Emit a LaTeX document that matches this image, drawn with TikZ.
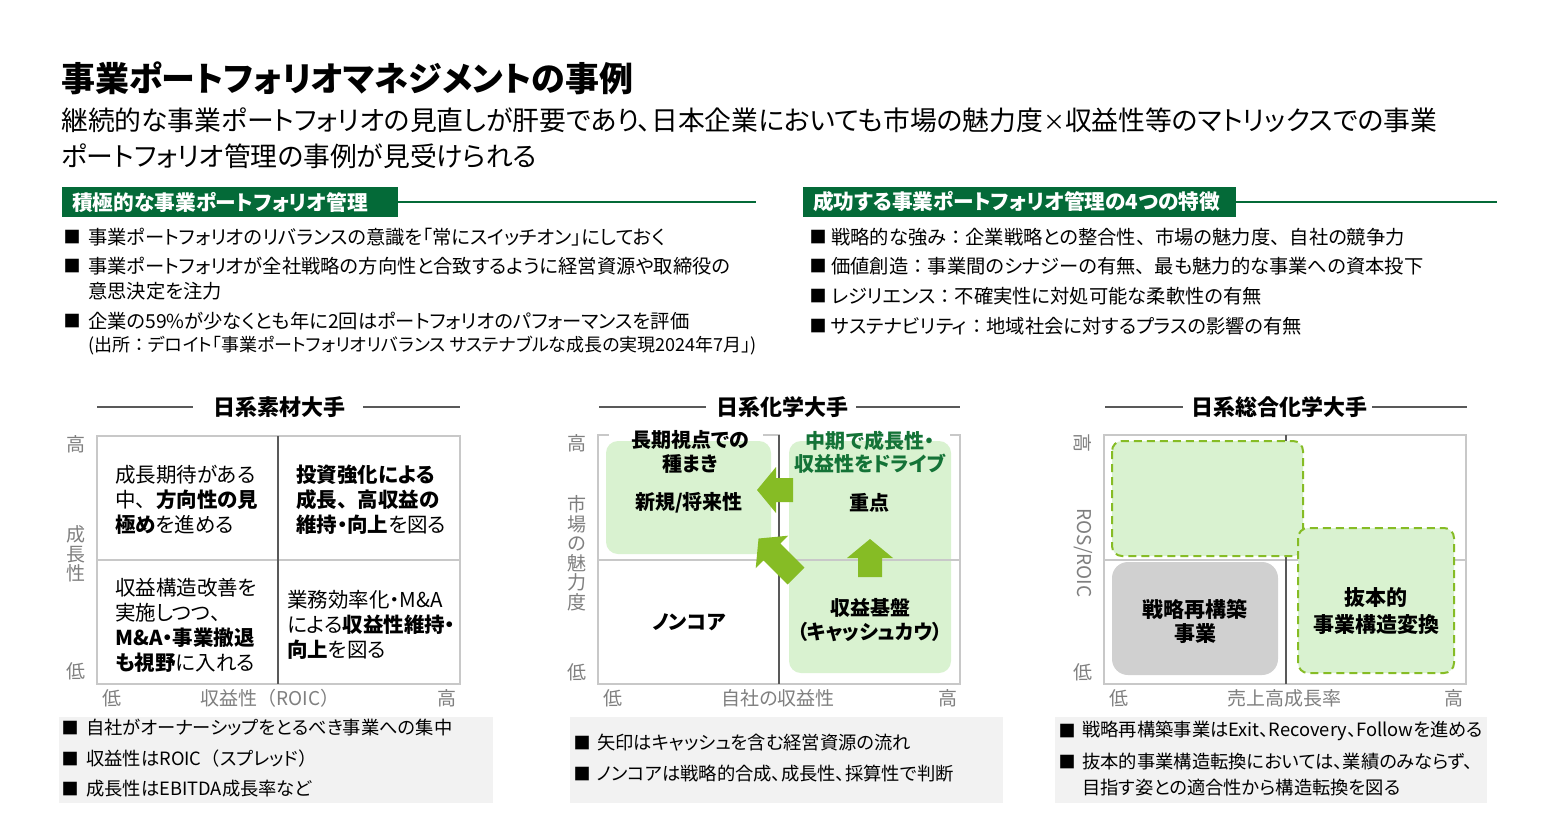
\documentclass[tikz,border=0pt]{standalone}
\usepackage{fontspec}
\setmainfont{Noto Sans CJK JP}[RawFeature=+palt]
\newfontfamily\fullwidth{Noto Sans CJK JP}
\usetikzlibrary{positioning}

\definecolor{dgreen}{RGB}{4,106,56}
\definecolor{lgreen}{RGB}{217,242,208}
\definecolor{agreen}{RGB}{134,188,37}
\definecolor{tgreen}{RGB}{20,115,55}
\definecolor{notebg}{RGB}{242,242,242}
\definecolor{corebox}{RGB}{208,208,208}
\definecolor{framegray}{RGB}{200,200,200}
\definecolor{axistxt}{RGB}{127,127,127}
\definecolor{axisline}{RGB}{89,89,89}

\newcommand{\fcolon}{{\fullwidth ：}}
\newcommand{\fcomma}{{\fullwidth 、}}
\newcommand{\lpar}{{\fullwidth （}}
\newcommand{\rpar}{{\fullwidth ）}}

\tikzset{
  every node/.style={inner sep=0pt},
  sectionbar/.style={fill=dgreen,text=white,font=\fontsize{20.7}{24}\selectfont\bfseries,
    minimum height=30,inner xsep=10,align=left,anchor=west},
  bulletmark/.style={font=\fontsize{17}{18}\selectfont},
  bullettext/.style={anchor=west,align=left,font=\fontsize{19.3}{25}\selectfont},
  notetext/.style={anchor=west,align=left,font=\fontsize{18.3}{26}\selectfont},
  paneltitle/.style={font=\fontsize{22}{26}\selectfont\bfseries},
  celltext/.style={anchor=west,align=left,font=\fontsize{20.5}{25}\selectfont},
  quadlabel/.style={align=center,font=\fontsize{20}{23.5}\selectfont\bfseries},
  axislabel/.style={text=axistxt,align=center,font=\fontsize{19}{19.5}\selectfont},
  gridframe/.style={draw=framegray,line width=2},
  midaxis/.style={draw=axisline,line width=2},
  titlerule/.style={draw=axisline,line width=1.3},
  dashbox/.style={fill=lgreen,draw=agreen,line width=2,dash pattern=on 8 off 5,rounded corners=10},
}

% block arrow: tail x, tail y, angle, length
\newcommand{\flowarrow}[4]{%
  \fill[agreen,shift={(#1,#2)},rotate=#3]
    (0,-12) -- (#4-19,-12) -- (#4-19,-23) -- (#4,0) -- (#4-19,23) -- (#4-19,12) -- (0,12) -- cycle;}

\begin{document}
\begin{tikzpicture}[x=1pt,y=-1pt]
    \useasboundingbox[fill=white] (0,0) rectangle (1546,835);

    % header
    \node[anchor=west,font=\fontsize{34}{40}\selectfont\bfseries] (title) at (61,78) {事業ポートフォリオマネジメントの事例};
    \node[anchor=west,align=left,font=\fontsize{26.8}{36}\selectfont] (lead) at (61,138)
        {継続的な事業ポートフォリオの見直しが肝要であり、日本企業においても市場の魅力度{\fontsize{22}{36}\selectfont ×}収益性等のマトリックスでの事業\\ポートフォリオ管理の事例が見受けられる};

    \node[sectionbar,text width=316] (secL) at (62,202) {積極的な事業ポートフォリオ管理};
    \coordinate (secLend) at (756,202);
    \draw[dgreen,line width=1.8] (secL.east) -- (secLend);
    \node[sectionbar,text width=413] (secR) at (803,202) {成功する事業ポートフォリオ管理の4つの特徴};
    \coordinate (secRend) at (1497,202);
    \draw[dgreen,line width=1.8] (secR.east) -- (secRend);

    \node[bulletmark] (mL1) at (72,237) {■};
    \node[bullettext] (bL1) at (88,237) {事業ポートフォリオのリバランスの意識を「常にスイッチオン」にしておく};
    \node[bulletmark] (mL2) at (72,266) {■};
    \node[bullettext] (bL2) at (88,278.5) {事業ポートフォリオが全社戦略の方向性と合致するように経営資源や取締役の\\意思決定を注力};
    \node[bulletmark] (mL3) at (72,321) {■};
    \node[bullettext] (bL3) at (88,321) {企業の59\%が少なくとも年に2回はポートフォリオのパフォーマンスを評価};
    \node[bullettext,font=\fontsize{18}{25}\selectfont] (bL3b) at (88,346) {(出所\fcolon デロイト「事業ポートフォリオリバランス サステナブルな成長の実現2024年7月」)};

    \node[bulletmark] (mR1) at (818,237) {■};
    \node[bullettext] (bR1) at (831,237) {戦略的な強み\fcolon 企業戦略との整合性\fcomma 市場の魅力度\fcomma 自社の競争力};
    \node[bulletmark] (mR2) at (818,266) {■};
    \node[bullettext] (bR2) at (831,266) {価値創造\fcolon 事業間のシナジーの有無\fcomma 最も魅力的な事業への資本投下};
    \node[bulletmark] (mR3) at (818,296) {■};
    \node[bullettext] (bR3) at (831,296) {レジリエンス\fcolon 不確実性に対処可能な柔軟性の有無};
    \node[bulletmark] (mR4) at (818,326) {■};
    \node[bullettext] (bR4) at (831,326) {サステナビリティ\fcolon 地域社会に対するプラスの影響の有無};

    % panel 1
    \node[paneltitle] (pt1) at (279,407) {日系素材大手};
    \coordinate (pt1l) at (97,407);
    \coordinate (pt1r) at (460,407);
    \draw[titlerule] (pt1l) -- ([xshift=-20]pt1.west);
    \draw[titlerule] ([xshift=18]pt1.east) -- (pt1r);

    \draw[gridframe] (97,436) rectangle (460,684);
    \draw[gridframe] (97,560) -- (460,560);
    \draw[midaxis] (278,436) -- (278,684);

    \node[celltext] (c11) at (115,500) {成長期待がある\\中\fcomma\textbf{方向性の見}\\\textbf{極め}を進める};
    \node[celltext] (c12) at (296,500) {\textbf{投資強化による}\\\textbf{成長\fcomma 高収益の}\\\textbf{維持・向上}を図る};
    \node[celltext] (c21) at (115,625) {収益構造改善を\\実施しつつ\fcomma\\\textbf{M\&A・事業撤退}\\\textbf{も視野}に入れる};
    \node[celltext] (c22) at (287,625) {業務効率化・M\&A\\による\textbf{収益性維持・}\\\textbf{向上}を図る};

    \node[axislabel] (y1hi) at (76,444) {高};
    \node[axislabel] (y1) at (76,554) {成\\長\\性};
    \node[axislabel] (y1lo) at (76,671) {低};
    \node[axislabel] (x1lo) at (112,698) {低};
    \node[axislabel] (x1) at (270,698) {収益性\lpar ROIC\rpar};
    \node[axislabel] (x1hi) at (447,698) {高};

    \fill[notebg] (59,717) rectangle (493,803);
    \node[bulletmark] (mN11) at (70,728) {■};
    \node[notetext] (n11) at (86,728) {自社がオーナーシップをとるべき事業への集中};
    \node[bulletmark] (mN12) at (70,759) {■};
    \node[notetext] (n12) at (86,759) {収益性はROIC\lpar スプレッド\rpar};
    \node[bulletmark] (mN13) at (70,789) {■};
    \node[notetext] (n13) at (86,789) {成長性はEBITDA成長率など};

    % panel 2
    \node[paneltitle] (pt2) at (782,407) {日系化学大手};
    \coordinate (pt2l) at (599,407);
    \coordinate (pt2r) at (960,407);
    \draw[titlerule] (pt2l) -- ([xshift=-10]pt2.west);
    \draw[titlerule] ([xshift=8]pt2.east) -- (pt2r);

    \draw[gridframe] (598,435) rectangle (960,684);
    \fill[white] (609,432) rectangle (763,438);
    \fill[white] (780,432) rectangle (950,438);
    \fill[lgreen,rounded corners=12] (606,441) rectangle (771,554);
    \fill[lgreen,rounded corners=12] (789,441) rectangle (951,673);
    \draw[gridframe] (598,560) -- (960,560);
    \draw[midaxis] (779,435) -- (779,684);

    \flowarrow{793}{490}{180}{36}
    \flowarrow{870}{577}{90}{38}
    \flowarrow{796}{576}{135}{53}

    \node[quadlabel] (q11a) at (690,452) {長期視点での\\種まき};
    \node[quadlabel] (q11) at (689,503) {新規/将来性};
    \node[quadlabel,text=tgreen] (q12a) at (870,452) {中期で成長性・\\収益性をドライブ};
    \node[quadlabel] (q12) at (869,503) {重点};
    \node[quadlabel] (q21) at (689,622) {ノンコア};
    \node[quadlabel] (q22) at (870,620) {収益基盤\\（キャッシュカウ）};

    \node[axislabel] (y2hi) at (577,443) {高};
    \node[axislabel] (y2) at (577,553) {市\\場\\の\\魅\\力\\度};
    \node[axislabel] (y2lo) at (577,672) {低};
    \node[axislabel] (x2lo) at (613,698) {低};
    \node[axislabel] (x2) at (778,698) {自社の収益性};
    \node[axislabel] (x2hi) at (948,698) {高};

    \fill[notebg] (570,717) rectangle (1003,803);
    \node[bulletmark] (mN21) at (582,743) {■};
    \node[notetext] (n21) at (597,743) {矢印はキャッシュを含む経営資源の流れ};
    \node[bulletmark] (mN22) at (582,774) {■};
    \node[notetext] (n22) at (597,774) {ノンコアは戦略的合成、成長性、採算性で判断};

    % panel 3
    \node[paneltitle] (pt3) at (1279,407) {日系総合化学大手};
    \coordinate (pt3l) at (1105,407);
    \coordinate (pt3r) at (1467,407);
    \draw[titlerule] (pt3l) -- ([xshift=-8]pt3.west);
    \draw[titlerule] ([xshift=5]pt3.east) -- (pt3r);

    \draw[gridframe] (1104,435) rectangle (1466,684);
    \draw[gridframe] (1104,560) -- (1466,560);
    \draw[midaxis] (1286,435) -- (1286,684);
    \path[dashbox] (1112,441) rectangle (1303,556);
    \path[dashbox] (1298,528) rectangle (1454,673);
    \fill[corebox,rounded corners=16] (1112,562) rectangle (1278,675);

    \node[quadlabel,font=\fontsize{21}{24}\selectfont\bfseries] (q3a) at (1195,621) {戦略再構築\\事業};
    \node[quadlabel,font=\fontsize{21}{27}\selectfont\bfseries] (q3b) at (1376,611.5) {抜本的\\事業構造変換};

    \node[axislabel,rotate=-90] (y3hi) at (1083,443) {高};
    \node[axislabel,rotate=-90] (y3) at (1083,553) {ROS/ROIC};
    \node[axislabel] (y3lo) at (1083,672) {低};
    \node[axislabel] (x3lo) at (1119,698) {低};
    \node[axislabel] (x3) at (1284,698) {売上高成長率};
    \node[axislabel] (x3hi) at (1454,698) {高};

    \fill[notebg] (1055,717) rectangle (1487,803);
    \node[bulletmark] (mN31) at (1067,731) {■};
    \node[notetext] (n31) at (1082,731) {戦略再構築事業はExit、Recovery、Followを進める};
    \node[bulletmark] (mN32) at (1067,762) {■};
    \node[notetext] (n32) at (1082,774.5) {抜本的事業構造転換においては、業績のみならず、\\目指す姿との適合性から構造転換を図る};
\end{tikzpicture}
\end{document}
